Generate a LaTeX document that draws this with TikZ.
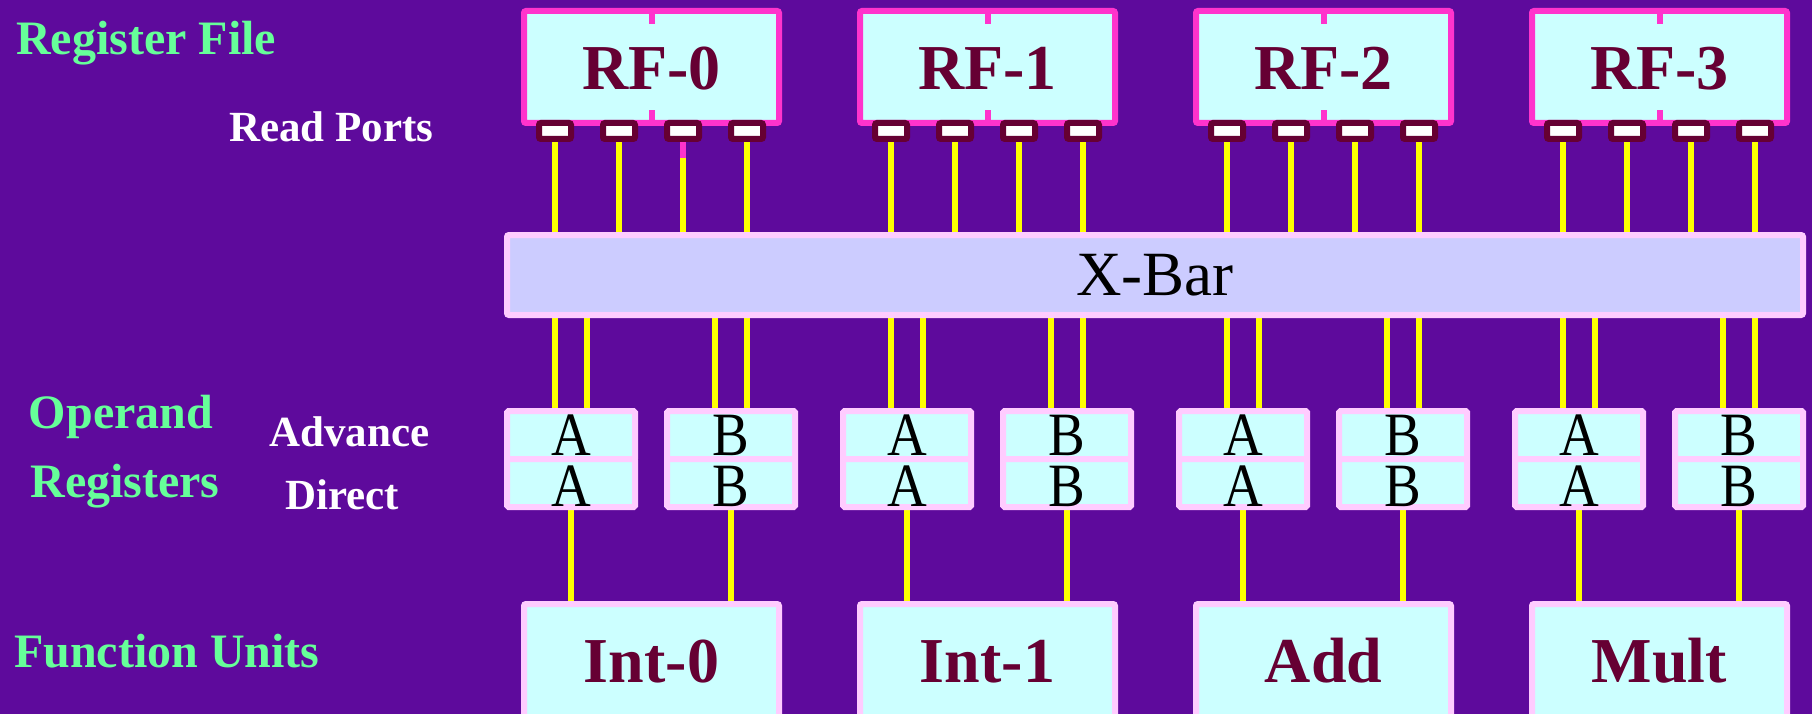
\documentclass[tikz,border=0pt]{standalone}
\usepackage{fontspec}
\setmainfont{Liberation Serif}
\usepackage{graphicx}
\definecolor{bgpurple}{RGB}{94,10,156}
\definecolor{rfmag}{RGB}{255,51,204}
\definecolor{pinkb}{RGB}{255,204,255}
\definecolor{cyanfill}{RGB}{204,255,255}
\definecolor{lavender}{RGB}{204,204,255}
\definecolor{maroon}{RGB}{102,0,51}
\definecolor{labgreen}{RGB}{102,255,153}
\definecolor{wireyellow}{RGB}{255,255,0}
\pgfdeclarelayer{bg}
\pgfdeclarelayer{wires}
\pgfsetlayers{bg,wires,main}
\tikzset{
  rfbox/.style={draw=rfmag, line width=6pt, fill=cyanfill, minimum width=255pt, minimum height=112pt, inner sep=0pt, rounded corners=2pt},
  rftick/.style={draw=rfmag, line width=6pt},
  portbox/.style={draw=maroon, line width=6pt, fill=white, minimum width=32pt, minimum height=16pt, inner sep=0pt, rounded corners=2pt},
  xbarbox/.style={draw=pinkb, line width=6pt, fill=lavender, minimum width=1296pt, minimum height=80pt, inner sep=0pt, rounded corners=2pt, font=\fontsize{63}{66}\selectfont},
  regcell/.style={draw=pinkb, line width=6pt, fill=cyanfill, minimum width=128pt, minimum height=48pt, inner sep=0pt, rounded corners=1.5pt},
  fubox/.style={draw=pinkb, line width=6pt, fill=cyanfill, minimum width=255pt, minimum height=130pt, inner sep=0pt, rounded corners=2pt},
  unittext/.style={anchor=base, inner sep=0pt, text=maroon, font=\fontsize{64}{66}\selectfont\bfseries},
  regtext/.style={anchor=base, inner sep=0pt, text=black, font=\fontsize{55}{58}\selectfont},
  wire/.style={draw=wireyellow, line width=6pt},
  greenlab/.style={inner sep=0pt, text=labgreen, font=\fontsize{48}{50}\selectfont\bfseries},
  whitelab/.style={inner sep=0pt, text=white, font=\fontsize{43}{45}\selectfont\bfseries}
}
\begin{document}
\begin{tikzpicture}[x=1pt,y=-1pt]
\begin{pgfonlayer}{bg}
\fill[bgpurple] (0,0) rectangle (1812,714);
\end{pgfonlayer}
\useasboundingbox (0,0) rectangle (1812,714);

% side labels
\node[greenlab, anchor=base west] (lrf) at (16,55) {Register File};
\node[whitelab, anchor=base west] (lrp) at (229,142) {Read Ports};
\node[greenlab, anchor=base] (lop) at (121,428) {Operand};
\node[greenlab, anchor=base] (lreg) at (125,497) {Registers};
\node[whitelab, anchor=base west] (ladv) at (269,446) {Advance};
\node[whitelab, anchor=base west] (ldir) at (285,509) {Direct};
\node[greenlab, anchor=base west] (lfu) at (14,667) {Function Units};

% crossbar
\node[xbarbox] (xbar) at (1155,275) {X-Bar};

\foreach \k/\rf/\fu in {0/RF-0/Int-0, 1/RF-1/Int-1, 2/RF-2/Add, 3/RF-3/Mult}{
  \pgfmathsetmacro\ox{336*\k}
  % register file
  \node[rfbox] (rf\k) at (651.5+\ox,67) {};
  \draw[rftick] (rf\k.north) -- ++(0,16);
  \draw[rftick] (rf\k.south) -- ++(0,-16);
  \node[unittext] (rft\k) at (651.5+\ox,90) {\rf};
  % read ports
  \foreach \j in {0,...,3}{
    \node[portbox] (p\k\j) at (555+\ox+64*\j,131) {};
    \begin{pgfonlayer}{wires}
      \draw[wire] (p\k\j.south) -- (p\k\j.south |- xbar.north);
    \end{pgfonlayer}
  }
  % operand registers
  \node[regcell] (aadv\k) at (571+\ox,435) {};
  \node[regcell] (adir\k) at (571+\ox,483) {};
  \node[regcell] (badv\k) at (731+\ox,435) {};
  \node[regcell] (bdir\k) at (731+\ox,483) {};
  \node[regtext] (aadvt\k) at (571+\ox,455) {\scalebox{1}[1.12]{A}};
  \node[regtext] (adirt\k) at (571+\ox,506) {\scalebox{1}[1.12]{A}};
  \node[regtext] (badvt\k) at (731+\ox,455) {\scalebox{1}[1.12]{B}};
  \node[regtext] (bdirt\k) at (731+\ox,506) {\scalebox{1}[1.12]{B}};
  \coordinate (xa\k) at (555+\ox,0);
  \coordinate (xb\k) at (587+\ox,0);
  \coordinate (xc\k) at (715+\ox,0);
  \coordinate (xd\k) at (747+\ox,0);
  % function units
  \node[fubox] (fu\k) at (651.5+\ox,669) {};
  \node[unittext] (fut\k) at (651.5+\ox,682) {\fu};
  \begin{pgfonlayer}{wires}
    \draw[wire] (xbar.south -| xa\k) -- (aadv\k.north -| xa\k);
    \draw[wire] (xbar.south -| xb\k) -- (aadv\k.north -| xb\k);
    \draw[wire] (xbar.south -| xc\k) -- (badv\k.north -| xc\k);
    \draw[wire] (xbar.south -| xd\k) -- (badv\k.north -| xd\k);
    \draw[wire] (adir\k.south) -- (adir\k.south |- fu\k.north);
    \draw[wire] (bdir\k.south) -- (bdir\k.south |- fu\k.north);
  \end{pgfonlayer}
}
\begin{pgfonlayer}{wires}
  \draw[draw=rfmag, line width=6pt] (p02.south) -- ++(0,16);
\end{pgfonlayer}
\end{tikzpicture}
\end{document}
